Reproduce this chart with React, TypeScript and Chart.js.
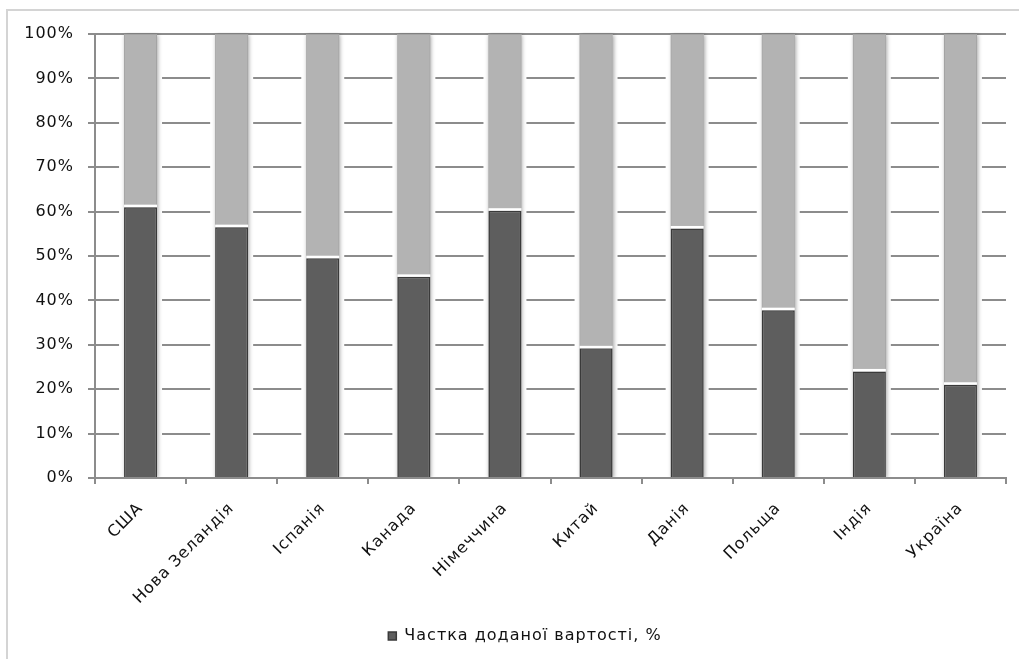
import React, { useEffect, useRef } from "react";
import { Chart, registerables } from "chart.js";

Chart.register(...registerables);

const categories = [
  "США",
  "Нова Зеландія",
  "Іспанія",
  "Канада",
  "Німеччина",
  "Китай",
  "Данія",
  "Польща",
  "Індія",
  "Україна",
];
const shareValues = [61, 56.5, 49.5, 45.3, 60.2, 29.2, 56.2, 37.8, 24, 21];
const restValues = [39, 43.5, 50.5, 54.7, 39.8, 70.8, 43.8, 62.2, 76, 79];
const shareLabel = "Частка доданої вартості, %";
const restLabel = "Інше, %";
const yTicks = [0, 10, 20, 30, 40, 50, 60, 70, 80, 90, 100];

const spacingPlugin = {
  id: "spacing",
  beforeInit(chart: any) {
    (chart.ctx as any).letterSpacing = "1px";
  },
  beforeUpdate(chart: any) {
    (chart.ctx as any).letterSpacing = "1px";
  },
  beforeDraw(chart: any) {
    (chart.ctx as any).letterSpacing = "1px";
  },
};

const haloPlugin = {
  id: "halo",
  afterLayout(chart: any) {
    const lg = chart.legend;
    if (lg) {
      lg.left += 17;
      lg.right += 17;
    }
  },
  beforeDatasetsDraw(chart: any) {
    const ctx = chart.ctx;
    const area = chart.chartArea;
    ctx.save();
    ctx.beginPath();
    ctx.rect(area.left + 1, area.top - 2, area.right - area.left, area.bottom - area.top + 1);
    ctx.clip();
    const metas = [chart.getDatasetMeta(0), chart.getDatasetMeta(1)];
    const n = metas[0].data.length;
    for (let i = 0; i < n; i++) {
      const a = metas[0].data[i] as any;
      const b = metas[1].data[i] as any;
      const left = a.x - a.width / 2;
      const top = Math.min(b.y, a.y);
      const bottom = a.base;
      ctx.fillStyle = "#ffffff";
      ctx.fillRect(left - 5, top + 3, a.width + 10, bottom - top - 4);
    }
    for (let i = 0; i < n; i++) {
      const a = metas[0].data[i] as any;
      const b = metas[1].data[i] as any;
      const left = a.x - a.width / 2;
      const top = Math.min(b.y, a.y);
      const bottom = a.base;
      ctx.save();
      ctx.shadowColor = "rgba(0,0,0,0.35)";
      ctx.shadowBlur = 4;
      ctx.shadowOffsetX = 1;
      ctx.shadowOffsetY = 1;
      ctx.fillStyle = "#bbbbbb";
      ctx.fillRect(left, top, a.width, bottom - top);
      ctx.restore();
    }
    ctx.restore();
  },
  afterDatasetsDraw(chart: any) {
    const ctx = chart.ctx;
    const meta = chart.getDatasetMeta(0);
    ctx.save();
    ctx.fillStyle = "#ffffff";
    meta.data.forEach((el: any) => {
      ctx.fillRect(el.x - el.width / 2, el.y - 2.5, el.width, 2.5);
    });
    ctx.restore();
  },
};

export default function App() {
  const canvasRef = useRef<HTMLCanvasElement | null>(null);

  useEffect(() => {
    document.body.style.margin = "0";
    const canvas = canvasRef.current;
    if (!canvas) return;
    const chart = new Chart(canvas, {
      type: "bar",
      data: {
        labels: categories,
        datasets: [
          {
            label: shareLabel,
            data: shareValues,
            backgroundColor: "#5e5e5e",
            borderColor: "#3a3a3a",
            borderWidth: 1.5,
            barPercentage: 0.362,
            categoryPercentage: 1,
          },
          {
            label: restLabel,
            data: restValues,
            backgroundColor: "#b3b3b3",
            borderColor: "#a3a3a3",
            borderWidth: 1,
            barPercentage: 0.362,
            categoryPercentage: 1,
          },
        ],
      },
      options: {
        animation: false,
        responsive: false,
        maintainAspectRatio: false,
        devicePixelRatio: 1,
        layout: { padding: { left: 10, right: 13, top: 34, bottom: 5 } },
        plugins: {
          tooltip: { enabled: false },
          legend: {
            display: true,
            position: "bottom",
            labels: {
              filter: (item: any) => item.datasetIndex === 0,
              boxWidth: 8,
              boxHeight: 8,
              padding: 10,
              color: "#111111",
              font: { family: "DejaVu Sans", size: 16 },
            },
          },
        },
        scales: {
          x: {
            stacked: true,
            grid: {
              offset: true,
              drawOnChartArea: false,
              drawTicks: true,
              tickLength: 6,
              color: "#8c8c8c",
              lineWidth: 2,
            },
            border: { display: true, color: "#8c8c8c", width: 2 },
            ticks: {
              minRotation: 45,
              maxRotation: 45,
              autoSkip: false,
              padding: 15,
              color: "#111111",
              font: { family: "DejaVu Sans", size: 16 },
            },
            afterFit: (scale: any) => {
              scale.height = 140;
            },
          },
          y: {
            stacked: true,
            min: 0,
            max: 100,
            afterBuildTicks: (scale: any) => {
              scale.ticks = yTicks.map((v) => ({ value: v }));
            },
            grid: {
              drawTicks: true,
              tickLength: 7,
              color: "#8c8c8c",
              lineWidth: 2,
            },
            border: { display: true, color: "#8c8c8c", width: 2 },
            ticks: {
              padding: 14,
              color: "#111111",
              font: { family: "DejaVu Sans", size: 16 },
              callback: (v: any) => v + "%",
            },
            afterFit: (scale: any) => {
              scale.width = 85;
            },
          },
        },
      },
      plugins: [spacingPlugin, haloPlugin],
    });
    return () => chart.destroy();
  }, []);

  return (
    <div style={{ position: "relative", width: 1019, height: 659, background: "#ffffff" }}>
      <div
        style={{
          position: "absolute",
          left: 6,
          top: 9,
          right: 0,
          bottom: 0,
          borderLeft: "2px solid #d4d4d4",
          borderTop: "2px solid #d4d4d4",
        }}
      />
      <canvas
        ref={canvasRef}
        width={1019}
        height={659}
        style={{ position: "absolute", left: 0, top: 0, width: 1019, height: 659 }}
      />
    </div>
  );
}
